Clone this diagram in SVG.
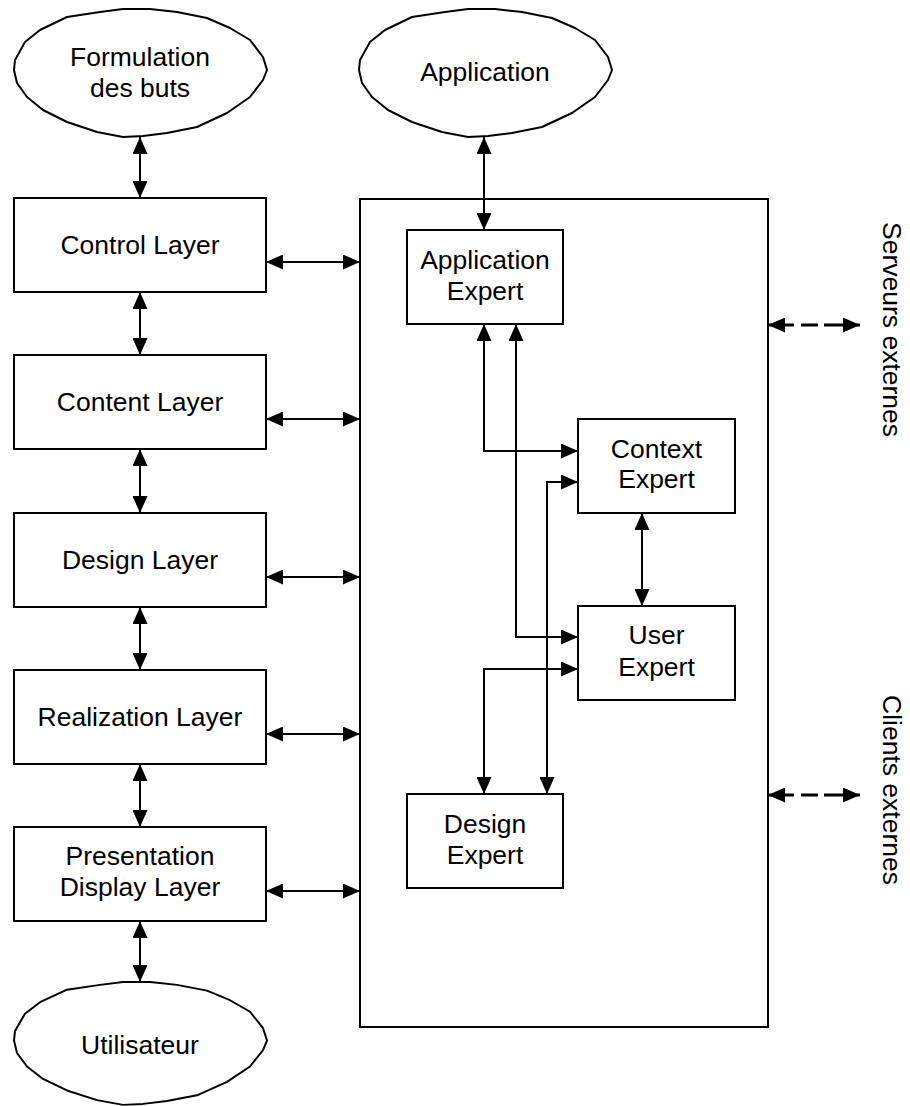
<svg xmlns="http://www.w3.org/2000/svg" xmlns:xlink="http://www.w3.org/1999/xlink" width="910" height="1106" viewBox="0 0 910 1106">
<style>
.bg{fill:#fff}
.box{fill:#fff;stroke:#000;stroke-width:2}
.ell{fill:#fff;stroke:#000;stroke-width:2;stroke-linejoin:round}
.lbl{font-family:"Liberation Sans",Arial,sans-serif;font-size:26.5px;fill:#000;text-anchor:middle}
.side{font-family:"Liberation Sans",Arial,sans-serif;font-size:26.5px;fill:#000}
.con{fill:none;stroke:#000;stroke-width:2;marker-start:url(#ah);marker-end:url(#ah)}
.dash{fill:none;stroke:#000;stroke-width:3;stroke-dasharray:26 7 17 6 40;marker-start:url(#ah);marker-end:url(#ah)}
</style>
<defs>
<marker id="ah" viewBox="0 0 17 15" markerWidth="17" markerHeight="15" refX="17" refY="7.5" orient="auto-start-reverse" markerUnits="userSpaceOnUse">
<path d="M0,0 L17,7.5 L0,15 Z" fill="#000"/>
</marker>
<path id="blob" d="M123,9 L100,12 L67,17 L40,30 L25,42 L15,60 L14,70 L17,83 L27,97 L43,110 L67,122 L97,132 L123,137 L143,136 L167,133 L197,127 L227,113 L250,97 L263,80 L267,70 L263,57 L250,40 L230,28 L207,18 L177,12 L150,9 Z"/>
</defs>
<rect class="bg" x="0" y="0" width="910" height="1106"/>

<g id="connectors">
<line class="con" x1="140" y1="137" x2="140" y2="198"/>
<line class="con" x1="140" y1="292" x2="140" y2="355"/>
<line class="con" x1="140" y1="449" x2="140" y2="513"/>
<line class="con" x1="140" y1="607" x2="140" y2="670"/>
<line class="con" x1="140" y1="764" x2="140" y2="827"/>
<line class="con" x1="140" y1="921" x2="140" y2="982"/>
<line class="con" x1="266" y1="262" x2="360" y2="262"/>
<line class="con" x1="266" y1="419" x2="360" y2="419"/>
<line class="con" x1="266" y1="577" x2="360" y2="577"/>
<line class="con" x1="266" y1="734" x2="360" y2="734"/>
<line class="con" x1="266" y1="891" x2="360" y2="891"/>
<line class="con" x1="484" y1="137" x2="484" y2="230"/>
<path class="con" d="M484,324 V451 H578"/>
<path class="con" d="M516,324 V637 H578"/>
<path class="con" d="M578,482 H547 V794"/>
<path class="con" d="M578,669 H484 V794"/>
<line class="con" x1="642" y1="513" x2="642" y2="606"/>
<line class="dash" x1="768" y1="325" x2="860" y2="325"/>
<line class="dash" x1="768" y1="795" x2="860" y2="795"/>
</g>

<g id="formulation">
<use xlink:href="#blob" class="ell"/>
<text class="lbl" x="140" y="66">Formulation</text>
<text class="lbl" x="140" y="97">des buts</text>
</g>
<g id="application">
<use xlink:href="#blob" class="ell" transform="translate(345,0)"/>
<text class="lbl" x="485" y="81">Application</text>
</g>
<g id="utilisateur">
<use xlink:href="#blob" class="ell" transform="translate(0,982) scale(1,0.96) translate(0,-9)"/>
<text class="lbl" x="140" y="1054">Utilisateur</text>
</g>

<g id="control-layer">
<rect class="box" x="14" y="198" width="252" height="94"/>
<text class="lbl" x="140" y="254">Control Layer</text>
</g>
<g id="content-layer">
<rect class="box" x="14" y="355" width="252" height="94"/>
<text class="lbl" x="140" y="411">Content Layer</text>
</g>
<g id="design-layer">
<rect class="box" x="14" y="513" width="252" height="94"/>
<text class="lbl" x="140" y="569">Design Layer</text>
</g>
<g id="realization-layer">
<rect class="box" x="14" y="670" width="252" height="94"/>
<text class="lbl" x="140" y="726">Realization Layer</text>
</g>
<g id="presentation-layer">
<rect class="box" x="14" y="827" width="252" height="94"/>
<text class="lbl" x="140" y="865">Presentation</text>
<text class="lbl" x="140" y="896">Display Layer</text>
</g>

<g id="expert-system">
<rect x="360" y="199" width="408" height="828" fill="none" stroke="#000" stroke-width="2"/>
</g>
<g id="application-expert">
<rect class="box" x="407" y="230" width="156" height="94"/>
<text class="lbl" x="485" y="269">Application</text>
<text class="lbl" x="485" y="300">Expert</text>
</g>
<g id="context-expert">
<rect class="box" x="578" y="419" width="157" height="94"/>
<text class="lbl" x="656.5" y="458">Context</text>
<text class="lbl" x="656.5" y="488">Expert</text>
</g>
<g id="user-expert">
<rect class="box" x="578" y="606" width="157" height="94"/>
<text class="lbl" x="656.5" y="644">User</text>
<text class="lbl" x="656.5" y="676">Expert</text>
</g>
<g id="design-expert">
<rect class="box" x="407" y="794" width="156" height="94"/>
<text class="lbl" x="485" y="833">Design</text>
<text class="lbl" x="485" y="864">Expert</text>
</g>

<g id="serveurs-externes">
<text class="side" transform="translate(883,222) rotate(90)">Serveurs externes</text>
</g>
<g id="clients-externes">
<text class="side" transform="translate(883,695) rotate(90)">Clients externes</text>
</g>
</svg>
